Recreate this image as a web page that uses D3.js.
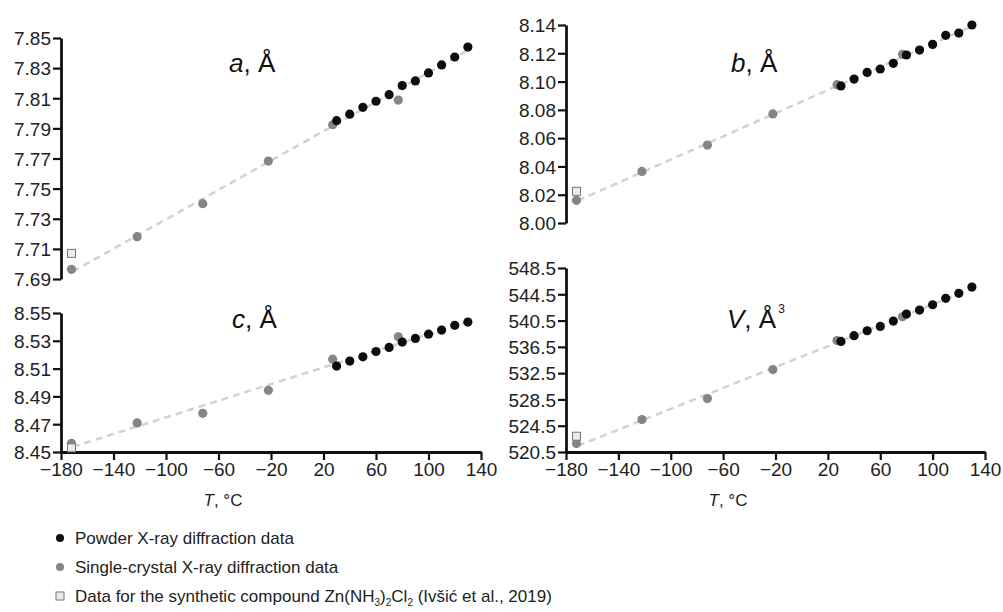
<!DOCTYPE html>
<html>
<head>
<meta charset="utf-8">
<script src="https://cdn.jsdelivr.net/npm/d3@7"></script>
<style>
  body { margin: 0; background: #fff; }
  svg { font-family: "Liberation Sans", Arial, sans-serif; }
  .axis path, .axis line { stroke: #111; }
  .axis text { fill: #222; font-size: 19px; font-family: "Liberation Sans", Arial, sans-serif; }
</style>
</head>
<body>
<div id="chart"></div>
<script>
// canvas size
var svgWidth = 1003;
var svgHeight = 612;

// temperatures, degrees C
var powderT = [30, 40, 50, 60, 70, 80, 90, 100, 110, 120, 130];
var singleT = [-172, -122, -72, -22, 27, 77];
var synthT = [-172];
var xTicks = [-180, -140, -100, -60, -20, 20, 60, 100, 140];

// a, Å
var aPowder = [7.7951, 7.7994, 7.8040, 7.8080, 7.8124, 7.8184, 7.8215, 7.8268, 7.8321, 7.8374, 7.8440];
var aSingle = [7.6964, 7.7181, 7.7400, 7.7683, 7.7924, 7.8088];
var aSynth = [7.707];
var aTicks = [7.69, 7.71, 7.73, 7.75, 7.77, 7.79, 7.81, 7.83, 7.85];

// b, Å
var bPowder = [8.0969, 8.1018, 8.1065, 8.1089, 8.1129, 8.1188, 8.1223, 8.1263, 8.1327, 8.1343, 8.1400];
var bSingle = [8.0160, 8.0365, 8.0551, 8.0771, 8.0978, 8.1193];
var bSynth = [8.0224];
var bTicks = [8.00, 8.02, 8.04, 8.06, 8.08, 8.10, 8.12, 8.14];

// c, Å
var cPowder = [8.5118, 8.5154, 8.5185, 8.5223, 8.5252, 8.5291, 8.5317, 8.5348, 8.5377, 8.5411, 8.5435];
var cSingle = [8.4562, 8.4709, 8.4778, 8.4944, 8.5168, 8.5329];
var cSynth = [8.4530];
var cTicks = [8.45, 8.47, 8.49, 8.51, 8.53, 8.55];

// V, Å3
var vPowder = [537.32, 538.20, 538.95, 539.61, 540.42, 541.49, 542.10, 542.91, 543.88, 544.64, 545.60];
var vSingle = [521.78, 525.43, 528.63, 533.05, 537.47, 541.08];
var vSynth = [522.9];
var vTicks = [520.5, 524.5, 528.5, 532.5, 536.5, 540.5, 544.5, 548.5];

var svg = d3.select("#chart")
  .append("svg")
  .attr("width", svgWidth)
  .attr("height", svgHeight);

// panel layout in pixels
var panels = [
  { name: "a", powder: aPowder, single: aSingle, synth: aSynth, ticks: aTicks, fmt: ".2f",
    x: [61, 481], y: [279, 38], xAxis: false, label: [229, 72] },
  { name: "b", powder: bPowder, single: bSingle, synth: bSynth, ticks: bTicks, fmt: ".2f",
    x: [566, 985], y: [223, 25], xAxis: false, label: [731, 72] },
  { name: "c", powder: cPowder, single: cSingle, synth: cSynth, ticks: cTicks, fmt: ".2f",
    x: [61, 481], y: [452, 313], xAxis: true, label: [232, 328] },
  { name: "V", powder: vPowder, single: vSingle, synth: vSynth, ticks: vTicks, fmt: ".1f",
    x: [566, 985], y: [452, 268], xAxis: true, label: [727, 328] }
];

panels.forEach(function(p) {
  var xScale = d3.scaleLinear().domain([-180, 140]).range(p.x);
  var yScale = d3.scaleLinear().domain([p.ticks[0], p.ticks[p.ticks.length - 1]]).range(p.y);

  var g = svg.append("g").attr("class", "panel-" + p.name);

  // dashed trend line: least squares over the measured points
  var allT = singleT.concat(powderT);
  var allV = p.single.concat(p.powder);
  var mT = d3.mean(allT), mV = d3.mean(allV);
  var slope = d3.sum(allT, (t, i) => (t - mT) * (allV[i] - mV)) / d3.sum(allT, t => (t - mT) * (t - mT));
  var fit = t => mV + slope * (t - mT);
  g.append("line")
    .attr("x1", xScale(-171)).attr("y1", yScale(fit(-171)))
    .attr("x2", xScale(131)).attr("y2", yScale(fit(131)))
    .attr("stroke", "#d2d2d2")
    .attr("stroke-width", 2.5)
    .attr("stroke-dasharray", "7,5");

  // y axis
  g.append("g")
    .attr("class", "axis")
    .attr("transform", `translate(${p.x[0]},0)`)
    .call(d3.axisLeft(yScale).tickValues(p.ticks).tickFormat(d3.format(p.fmt)).tickSize(8).tickSizeOuter(0).tickPadding(2))
    .call(ax => ax.select(".domain").attr("stroke-width", 2.8))
    .call(ax => ax.selectAll(".tick line").attr("stroke-width", 2.2))
    .call(ax => ax.selectAll("text").attr("dy", "0.36em"));

  if (p.xAxis) {
    g.append("g")
      .attr("class", "axis")
      .attr("transform", `translate(0,${p.y[0]})`)
      .call(d3.axisBottom(xScale).tickValues(xTicks).tickSize(8).tickSizeOuter(0).tickPadding(3))
      .call(ax => ax.select(".domain").attr("stroke-width", 2.8))
      .call(ax => ax.selectAll(".tick line").attr("stroke-width", 2.2));

    var xl = g.append("text")
      .attr("x", p.x[0] + 162)
      .attr("y", 506)
      .attr("text-anchor", "middle")
      .attr("font-size", 17)
      .attr("fill", "#222");
    xl.append("tspan").attr("font-style", "italic").text("T");
    xl.append("tspan").text(", °C");
  }

  // single crystal points
  g.selectAll(".single")
    .data(singleT.map((t, i) => [t, p.single[i]]))
    .enter()
    .append("circle")
    .attr("cx", d => xScale(d[0]))
    .attr("cy", d => yScale(d[1]))
    .attr("r", 4.6)
    .attr("fill", "#858585");

  // synthetic compound
  g.selectAll(".synth")
    .data(synthT.map((t, i) => [t, p.synth[i]]))
    .enter()
    .append("rect")
    .attr("x", d => xScale(d[0]) - 4)
    .attr("y", d => yScale(d[1]) - 4)
    .attr("width", 8)
    .attr("height", 8)
    .attr("fill", "#ececec")
    .attr("stroke", "#777")
    .attr("stroke-width", 1);

  // powder points
  g.selectAll(".powder")
    .data(powderT.map((t, i) => [t, p.powder[i]]))
    .enter()
    .append("circle")
    .attr("cx", d => xScale(d[0]))
    .attr("cy", d => yScale(d[1]))
    .attr("r", 4.6)
    .attr("fill", "#0d0d0d");

  // panel title
  var lab = g.append("text")
    .attr("x", p.label[0])
    .attr("y", p.label[1])
    .attr("font-size", 26)
    .attr("fill", "#111");
  lab.append("tspan").attr("font-style", "italic").text(p.name);
  lab.append("tspan").text(", Å");
  if (p.name == "V") {
    lab.append("tspan").attr("font-size", 12).attr("dy", -15).attr("dx", 2).text("3");
  }
});

// legend
var legend = svg.append("g").attr("font-size", 17).attr("fill", "#222");

legend.append("circle").attr("cx", 60).attr("cy", 538).attr("r", 4).attr("fill", "#0d0d0d");
legend.append("text").attr("x", 75).attr("y", 544).text("Powder X-ray diffraction data");

legend.append("circle").attr("cx", 60).attr("cy", 567).attr("r", 4).attr("fill", "#858585");
legend.append("text").attr("x", 75).attr("y", 573).text("Single-crystal X-ray diffraction data");

legend.append("rect").attr("x", 56).attr("y", 592).attr("width", 8).attr("height", 8)
  .attr("fill", "#ececec").attr("stroke", "#777").attr("stroke-width", 1);
var l3 = legend.append("text").attr("x", 75).attr("y", 602);
l3.append("tspan").text("Data for the synthetic compound Zn(NH");
l3.append("tspan").attr("font-size", 10).attr("dy", 4).text("3");
l3.append("tspan").attr("dy", -4).text(")");
l3.append("tspan").attr("font-size", 10).attr("dy", 4).text("2");
l3.append("tspan").attr("dy", -4).text("Cl");
l3.append("tspan").attr("font-size", 10).attr("dy", 4).text("2");
l3.append("tspan").attr("dy", -4).text(" (Ivšić et al., 2019)");
</script>
</body>
</html>
